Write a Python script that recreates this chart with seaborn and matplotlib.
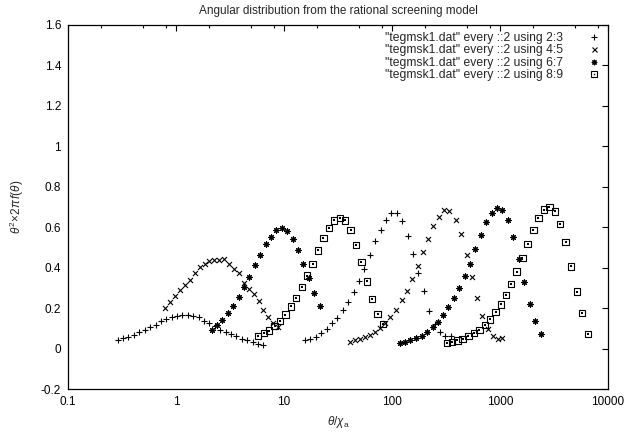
import matplotlib
matplotlib.use("Agg")
import matplotlib.pyplot as plt
import numpy as np
import pandas as pd
import seaborn as sns
from matplotlib.lines import Line2D
from matplotlib.ticker import FixedLocator, LogLocator, NullFormatter

# ---------------- data ----------------
# series 1 : "+" (two blocks)
plus_x1 = [0.288, 0.324, 0.363, 0.407, 0.457, 0.513, 0.575, 0.646, 0.724, 0.813,
           0.912, 1.023, 1.148, 1.288, 1.445, 1.622, 1.820, 2.042, 2.291, 2.570,
           2.884, 3.236, 3.631, 4.074, 4.571, 5.129, 5.754, 6.457]
plus_y1 = [0.040, 0.051, 0.059, 0.068, 0.081, 0.092, 0.106, 0.117, 0.134, 0.144,
           0.155, 0.160, 0.167, 0.165, 0.160, 0.154, 0.138, 0.126, 0.112, 0.094,
           0.083, 0.072, 0.060, 0.048, 0.040, 0.031, 0.025, 0.019]
plus_x2 = [15.63, 17.54, 19.68, 22.08, 24.77, 27.80, 31.19, 34.99, 39.26, 44.06,
           49.43, 55.46, 62.23, 69.82, 78.34, 87.90, 98.63, 110.7, 124.2, 139.3,
           156.3, 175.4, 196.8, 220.8, 247.7, 278.0, 311.9, 349.9]
plus_y2 = [0.040, 0.048, 0.059, 0.079, 0.099, 0.124, 0.153, 0.190, 0.228, 0.280,
           0.334, 0.392, 0.462, 0.530, 0.588, 0.636, 0.668, 0.670, 0.630, 0.557,
           0.467, 0.376, 0.283, 0.186, 0.120, 0.080, 0.062, 0.064]

# series 2 : "x"
cross_x1 = [0.794, 0.881, 0.979, 1.089, 1.208, 1.343, 1.489, 1.656, 1.837, 2.042,
            2.265, 2.518, 2.793, 3.105, 3.443, 3.828, 4.246, 4.721, 5.236, 5.821,
            6.457, 7.178, 7.962, 8.851]
cross_y1 = [0.200, 0.232, 0.259, 0.288, 0.314, 0.340, 0.372, 0.402, 0.420, 0.432,
            0.439, 0.439, 0.443, 0.418, 0.392, 0.372, 0.325, 0.296, 0.268, 0.236,
            0.190, 0.157, 0.125, 0.106]
cross_x2 = [40.83, 45.39, 50.58, 56.49, 63.10, 69.98, 77.62, 86.10, 96.16, 108.4,
            122.5, 136.8, 154.2, 173.0, 192.3, 216.8, 241.5, 272.3, 302.7, 339.6,
            389.0, 434.5, 492.0, 547.0, 608.1, 685.5, 776.2, 867.0, 950.6, 1050.0]
cross_y2 = [0.031, 0.040, 0.048, 0.056, 0.066, 0.080, 0.104, 0.128, 0.158, 0.193,
            0.238, 0.287, 0.345, 0.406, 0.477, 0.540, 0.604, 0.650, 0.683, 0.680,
            0.637, 0.567, 0.464, 0.356, 0.249, 0.160, 0.097, 0.061, 0.045, 0.051]

# series 3 : "*"
star_x1 = [2.138, 2.399, 2.692, 3.020, 3.388, 3.802, 4.266, 4.786, 5.370, 6.026,
           6.761, 7.586, 8.511, 9.550, 10.72, 12.02, 13.49, 15.14, 16.98, 19.05, 21.38]
star_y1 = [0.092, 0.117, 0.142, 0.175, 0.209, 0.254, 0.304, 0.356, 0.411, 0.465,
           0.518, 0.554, 0.587, 0.596, 0.583, 0.543, 0.489, 0.419, 0.350, 0.274, 0.210]
star_x2 = [118.6, 131.8, 146.9, 165.6, 188.4, 212.3, 238.2, 264.9, 298.5, 331.9,
           375.0, 419.8, 474.2, 524.8, 587.5, 662.2, 741.3, 837.5, 931.1, 1050.0,
           1194.0, 1327.0, 1500.0, 1679.0, 1897.0, 2109.0, 2382.0]
star_y2 = [0.026, 0.031, 0.040, 0.051, 0.064, 0.081, 0.109, 0.130, 0.167, 0.204,
           0.249, 0.299, 0.358, 0.420, 0.493, 0.563, 0.625, 0.670, 0.695, 0.683,
           0.634, 0.551, 0.444, 0.328, 0.218, 0.134, 0.073]

# series 4 : boxes
box_x1 = [5.781, 6.486, 7.278, 8.185, 9.183, 10.30, 11.56, 13.00, 14.59, 16.37,
          18.37, 20.65, 23.17, 26.00, 29.17, 32.81, 36.81, 41.30, 46.35, 52.12,
          58.48, 65.61, 73.62, 82.60]
box_y1 = [0.061, 0.076, 0.089, 0.110, 0.137, 0.168, 0.208, 0.251, 0.304, 0.361,
          0.419, 0.485, 0.546, 0.597, 0.634, 0.647, 0.634, 0.587, 0.513, 0.427,
          0.332, 0.246, 0.172, 0.122]
box_x2 = [325.1, 361.4, 402.7, 450.8, 509.3, 574.1, 644.2, 726.1, 807.2, 912.0,
          1021.0, 1138.0, 1265.0, 1426.0, 1611.0, 1803.0, 2037.0, 2265.0, 2570.0,
          2864.0, 3228.0, 3597.0, 4055.0, 4539.0, 5129.0, 5781.0, 6486.0]
box_y2 = [0.026, 0.031, 0.040, 0.048, 0.062, 0.078, 0.092, 0.117, 0.144, 0.180,
          0.218, 0.266, 0.320, 0.381, 0.449, 0.518, 0.587, 0.645, 0.687, 0.700,
          0.678, 0.617, 0.526, 0.406, 0.282, 0.175, 0.073]

legend_labels = ['"tegmsk1.dat" every ::2 using 2:3',
                 '"tegmsk1.dat" every ::2 using 4:5',
                 '"tegmsk1.dat" every ::2 using 6:7',
                 '"tegmsk1.dat" every ::2 using 8:9']
x_ticks = [0.1, 1, 10, 100, 1000, 10000]
x_tick_labels = ["0.1", "1", "10", "100", "1000", "10000"]
y_ticks = [-0.2, 0, 0.2, 0.4, 0.6, 0.8, 1.0, 1.2, 1.4, 1.6]
y_tick_labels = ["-0.2", "0", "0.2", "0.4", "0.6", "0.8", "1", "1.2", "1.4", "1.6"]
title = "Angular distribution from the rational screening model"

# ---------------- style ----------------
sns.set_theme(style="white")
plt.rcParams["font.family"] = ["Liberation Sans", "DejaVu Sans"]
plt.rcParams["mathtext.fontset"] = "custom"
plt.rcParams["mathtext.rm"] = "Liberation Sans"
plt.rcParams["mathtext.it"] = "Liberation Sans:italic"
FS = 8.5
LEG_FS = 8.7

fig = plt.figure(figsize=(6.33, 4.32), dpi=100)
ax = fig.add_axes([68 / 633, 1 - 389 / 432, (608 - 68) / 633, (389 - 25) / 432])

def frame(xa, ya, xb, yb):
    return pd.DataFrame({"x": list(xa) + list(xb), "y": list(ya) + list(yb)})

df_plus = frame(plus_x1, plus_y1, plus_x2, plus_y2)
df_cross = frame(cross_x1, cross_y1, cross_x2, cross_y2)
df_star = frame(star_x1, star_y1, star_x2, star_y2)
df_box = frame(box_x1, box_y1, box_x2, box_y2)

LW = 0.8
sns.scatterplot(data=df_plus, x="x", y="y", marker="+", s=17, color="black",
                linewidth=LW, ax=ax, legend=False)
sns.scatterplot(data=df_cross, x="x", y="y", marker="x", s=13, color="black",
                linewidth=LW, ax=ax, legend=False)
sns.scatterplot(data=df_star, x="x", y="y", marker=(8, 2, 0), s=15, color="black",
                linewidth=LW, ax=ax, legend=False)
sns.scatterplot(data=df_box, x="x", y="y", marker="s", s=21, color="black",
                facecolors="none", edgecolor="black", linewidth=LW, ax=ax, legend=False)
sns.scatterplot(data=df_box, x="x", y="y", marker="s", s=1.0, color="black",
                linewidth=0, ax=ax, legend=False)

ax.set_xscale("log")
ax.set_xlim(0.1, 10000)
ax.set_ylim(-0.2, 1.6)
ax.xaxis.set_major_locator(FixedLocator(x_ticks))
ax.set_xticklabels(x_tick_labels)
ax.xaxis.set_minor_locator(LogLocator(base=10, subs=(2, 5, 8)))
ax.xaxis.set_minor_formatter(NullFormatter())
ax.set_yticks(y_ticks)
ax.set_yticklabels(y_tick_labels)
ax.tick_params(which="both", direction="in", top=True, right=True,
               colors="black", labelsize=FS, width=0.8)
ax.tick_params(which="major", length=4.5, pad=5)
ax.tick_params(which="minor", length=2.5)
for sp in ax.spines.values():
    sp.set_color("black")
    sp.set_linewidth(0.9)

ax.set_xlabel(r"$\theta/\chi_{\rm a}$", fontsize=FS, labelpad=4)
ax.set_ylabel(r"$\theta^2\!\times\!2\pi\, f(\theta)$", fontsize=FS, labelpad=11)
ax.set_title(title, fontsize=FS, pad=8)

h1 = Line2D([], [], ls="", marker="+", ms=4.1, mew=LW, color="black")
h2 = Line2D([], [], ls="", marker="x", ms=3.6, mew=LW, color="black")
h3 = Line2D([], [], ls="", marker=(8, 2, 0), ms=3.9, mew=LW, color="black")
h4a = Line2D([], [], ls="", marker="s", ms=4.6, mew=LW, mfc="none", mec="black")
h4b = Line2D([], [], ls="", marker="s", ms=1.0, mew=0, color="black")
leg = ax.legend([h1, h2, h3, (h4a, h4b)], legend_labels, loc="upper right",
                frameon=False, markerfirst=False, fontsize=LEG_FS, handlelength=1.1,
                handletextpad=2.0, labelspacing=0.02, borderaxespad=0.3,
                borderpad=0.3)

fig.savefig("out.png", dpi=100)
